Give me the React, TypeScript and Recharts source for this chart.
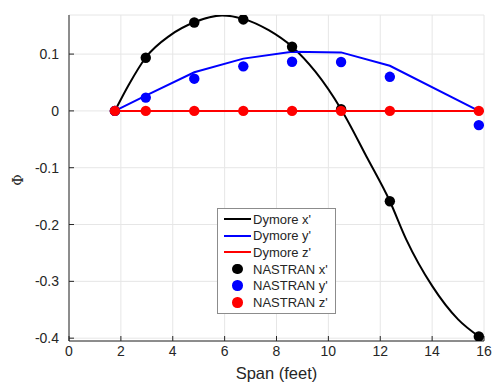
import React from 'react';
import {
  ComposedChart,
  Line,
  Scatter,
  XAxis,
  YAxis,
  CartesianGrid,
} from 'recharts';

// Span stations (feet) where NASTRAN and the Dymore y'/z' curves are sampled
const spanStations = [1.77, 2.96, 4.83, 6.72, 8.6, 10.49, 12.37, 15.8];

// NASTRAN mode shape components
const nastranX = [0, 0.0935, 0.1556, 0.161, 0.113, 0.003, -0.159, -0.397];
const nastranY = [0, 0.0234, 0.0567, 0.0784, 0.0865, 0.086, 0.06, -0.025];
const nastranZ = [0, 0, 0, 0, 0, 0, 0, 0];

// Dymore curves
const dymoreXSpan = [1.77, 2.3, 2.96, 3.9, 4.83, 5.9, 6.72, 7.7, 8.6, 9.5, 10.49, 11.5, 12.37, 13, 14, 15, 15.8];
const dymoreX = [0, 0.0456, 0.094, 0.133, 0.156, 0.168, 0.162, 0.142, 0.113, 0.069, 0.003, -0.083, -0.159, -0.226, -0.308, -0.367, -0.397];
const dymoreY = [0, 0.027, 0.068, 0.092, 0.104, 0.103, 0.0795, 0];
const dymoreZ = [0, 0, 0, 0, 0, 0, 0, 0];

const xTicks = [0, 2, 4, 6, 8, 10, 12, 14, 16];
const yTicks = [-0.4, -0.3, -0.2, -0.1, 0, 0.1];

const toPoints = (xs: number[], ys: number[]) => xs.map((x, i) => ({ x, y: ys[i] }));

const FONT = '"Liberation Sans", Arial, Helvetica, sans-serif';
const AXIS = '#262626';

const legendItems = [
  { name: "Dymore x'", color: '#000000', kind: 'line' },
  { name: "Dymore y'", color: '#0000ff', kind: 'line' },
  { name: "Dymore z'", color: '#ff0000', kind: 'line' },
  { name: "NASTRAN x'", color: '#000000', kind: 'dot' },
  { name: "NASTRAN y'", color: '#0000ff', kind: 'dot' },
  { name: "NASTRAN z'", color: '#ff0000', kind: 'dot' },
];

const Dot = (props: any) => {
  const { cx, cy, fill } = props;
  if (cx == null || cy == null) return null;
  return <circle cx={cx} cy={cy} r={5.2} fill={fill} />;
};

const fmtY = (v: number) => (Math.abs(v) < 1e-9 ? '0' : String(Math.round(v * 10) / 10));

const App: React.FC = () => {
  return (
    <div style={{ position: 'absolute', left: 0, top: 0, width: 494, height: 388, background: '#fff' }}>
      <ComposedChart
        width={494}
        height={388}
        margin={{ top: 15, right: 10, bottom: 7, left: 0 }}
        style={{ fontFamily: FONT }}
      >
        <CartesianGrid stroke="#e6e6e6" strokeWidth={1} />
        <XAxis
          dataKey="x"
          type="number"
          domain={[0, 16]}
          ticks={xTicks}
          allowDataOverflow
          height={40}
          stroke={AXIS}
          tickSize={-5}
          tickMargin={10}
          tick={{ fill: AXIS, fontSize: 14 }}
          label={{ value: 'Span (feet)', position: 'insideBottom', offset: 2, fill: AXIS, fontSize: 16.5 }}
        />
        <XAxis
          xAxisId="top"
          orientation="top"
          dataKey="x"
          type="number"
          domain={[0, 16]}
          ticks={xTicks}
          allowDataOverflow
          height={0}
          stroke={AXIS}
          tickSize={-5}
          tick={false}
        />
        <YAxis
          type="number"
          domain={[-0.405, 0.1688]}
          ticks={yTicks}
          allowDataOverflow
          width={69}
          stroke={AXIS}
          tickSize={-5}
          tickMargin={15}
          tickFormatter={fmtY}
          tick={{ fill: AXIS, fontSize: 14 }}
          label={{
            content: (p: any) => {
              const vb = p.viewBox || {};
              const cx = 18;
              const cy = (vb.y ?? 15) + (vb.height ?? 326) / 2 + 2;
              return (
                <text
                  x={cx}
                  y={cy}
                  transform={`rotate(-90 ${cx} ${cy})`}
                  textAnchor="middle"
                  dominantBaseline="central"
                  fill={AXIS}
                  fontSize={14}
                  fontFamily='"DejaVu Serif", "Liberation Serif", serif'
                >
                  Φ
                </text>
              );
            },
          }}
        />
        <YAxis
          yAxisId="right"
          orientation="right"
          type="number"
          domain={[-0.405, 0.1688]}
          ticks={yTicks}
          allowDataOverflow
          width={0}
          stroke={AXIS}
          tickSize={-5}
          tick={false}
        />

        <Line
          data={toPoints(dymoreXSpan, dymoreX)}
          dataKey="y"
          type="monotone"
          stroke="#000000"
          strokeWidth={2}
          dot={false}
          activeDot={false}
          isAnimationActive={false}
        />
        <Line
          data={toPoints(spanStations, dymoreY)}
          dataKey="y"
          type="linear"
          stroke="#0000ff"
          strokeWidth={2}
          dot={false}
          activeDot={false}
          isAnimationActive={false}
        />
        <Line
          data={toPoints(spanStations, dymoreZ)}
          dataKey="y"
          type="linear"
          stroke="#ff0000"
          strokeWidth={2}
          dot={false}
          activeDot={false}
          isAnimationActive={false}
        />
        <Scatter data={toPoints(spanStations, nastranX)} dataKey="y" fill="#000000" shape={<Dot />} isAnimationActive={false} />
        <Scatter data={toPoints(spanStations, nastranY)} dataKey="y" fill="#0000ff" shape={<Dot />} isAnimationActive={false} />
        <Scatter data={toPoints(spanStations, nastranZ)} dataKey="y" fill="#ff0000" shape={<Dot />} isAnimationActive={false} />
      </ComposedChart>

      <div
        style={{
          position: 'absolute',
          left: 217,
          top: 208,
          width: 117,
          height: 102,
          background: '#fff',
          border: '1px solid #8c8c8c',
          fontFamily: FONT,
          fontSize: 13,
          color: AXIS,
          paddingTop: 2,
          boxSizing: 'content-box',
        }}
      >
        {legendItems.map((item) => (
          <div key={item.name} style={{ display: 'flex', alignItems: 'center', height: 16.6 }}>
            <div style={{ width: 35, display: 'flex', justifyContent: 'center', alignItems: 'center' }}>
              {item.kind === 'line' ? (
                <div style={{ width: 27, height: 2, background: item.color, marginLeft: 4 }} />
              ) : (
                <div style={{ width: 10.5, height: 10.5, borderRadius: '50%', background: item.color, marginLeft: 4 }} />
              )}
            </div>
            <span style={{ whiteSpace: 'nowrap' }}>{item.name}</span>
          </div>
        ))}
      </div>
    </div>
  );
};

export default App;
